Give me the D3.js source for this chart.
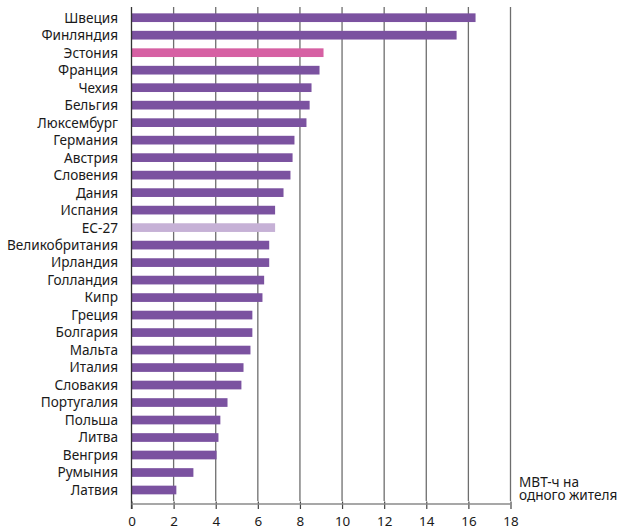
<!DOCTYPE html>
<html><head><meta charset="utf-8">
<script src="https://cdn.jsdelivr.net/npm/d3@7"></script>
<style>
body{margin:0;background:#fff;}
svg{display:block;font-family:"Noto Sans",sans-serif;}
</style></head>
<body><svg id="c" width="619" height="527"></svg>
<script>
const countries = ["Швеция","Финляндия","Эстония","Франция","Чехия","Бельгия","Люксембург","Германия","Австрия","Словения","Дания","Испания","ЕС-27","Великобритания","Ирландия","Голландия","Кипр","Греция","Болгария","Мальта","Италия","Словакия","Португалия","Польша","Литва","Венгрия","Румыния","Латвия"];
const values = [16.34,15.44,9.12,8.93,8.55,8.46,8.31,7.74,7.65,7.55,7.22,6.82,6.82,6.54,6.54,6.30,6.22,5.74,5.74,5.65,5.32,5.22,4.56,4.22,4.13,4.04,2.94,2.13];
const tickValues = [0,2,4,6,8,10,12,14,16,18];
const unitLines = ["МВТ-ч на","одного жителя"];
const highlight = {"Эстония":"#D660A3","ЕС-27":"#C6B1D6"};
const baseColor = "#7B52A0";

const svg = d3.select("#c");
const x = d3.scaleLinear().domain([0,18]).range([131.5,510.5]);
const y = d3.scaleBand().domain(countries).range([13.35,494.35]).paddingInner(0.503).paddingOuter(0);

// gridlines
svg.append("g").selectAll("line").data(tickValues.filter(d=>d>0)).join("line")
  .attr("x1",d=>x(d)).attr("x2",d=>x(d)).attr("y1",7).attr("y2",501)
  .attr("stroke","#6e6e6e").attr("stroke-width",1.3);

// bars
svg.append("g").selectAll("rect").data(countries).join("rect")
  .attr("x",x(0)).attr("y",d=>y(d)).attr("height",y.bandwidth())
  .attr("width",(d,i)=>x(values[i])-x(0))
  .attr("fill",d=>highlight[d]||baseColor);

// left axis line
svg.append("line").attr("x1",x(0)).attr("x2",x(0)).attr("y1",7).attr("y2",509)
  .attr("stroke","#333").attr("stroke-width",1.3);

// category labels
svg.append("g").selectAll("text").data(countries).join("text")
  .attr("x",118).attr("y",d=>y(d)+y.bandwidth()/2).attr("dy","0.36em")
  .attr("text-anchor","end").attr("font-size",13.6).attr("fill","#1a1a1a").text(d=>d);

// bottom axis
const ax = svg.append("g").attr("transform","translate(0,504)")
  .call(d3.axisBottom(x).tickValues(tickValues).tickSize(0).tickPadding(0).tickFormat(d3.format("d")));
ax.select(".domain").remove();
ax.append("line").attr("x1",x(0)).attr("x2",x(18)).attr("y1",0).attr("y2",0)
  .attr("stroke","#8a8a8a").attr("stroke-width",1.5);
ax.selectAll(".tick").append("line").attr("y1",-2.5).attr("y2",5).attr("stroke","#444").attr("stroke-width",1.2);
ax.selectAll(".tick text").attr("y",21.5).attr("dy",0).attr("font-size",13.4).attr("fill","#1a1a1a")
  .attr("font-family","Noto Sans");

// unit label
svg.append("text").attr("x",519).attr("y",487).attr("font-size",13.6).attr("fill","#1a1a1a")
  .selectAll("tspan").data(unitLines).join("tspan").attr("x",519).attr("dy",(d,i)=>i?13:0).text(d=>d);
</script></body></html>
